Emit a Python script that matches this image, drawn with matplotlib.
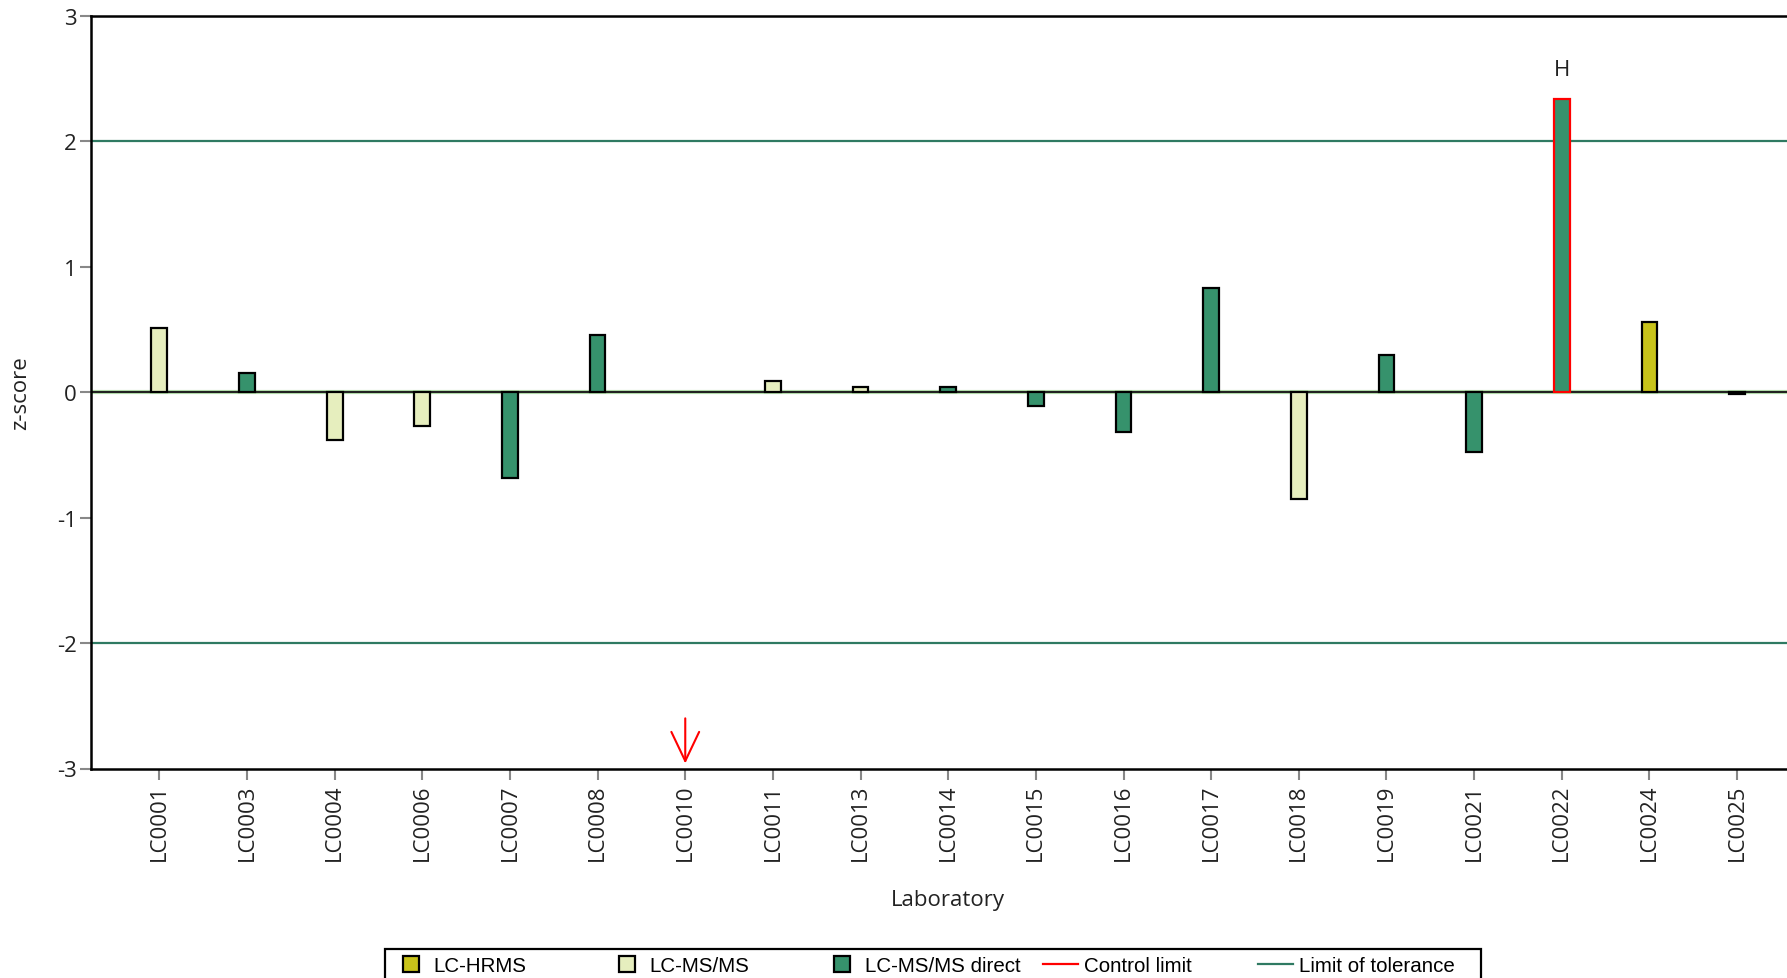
import matplotlib
matplotlib.use("Agg")
import matplotlib.pyplot as plt
from matplotlib.patches import Patch, Rectangle
from matplotlib.lines import Line2D

labs = ["LC0001", "LC0003", "LC0004", "LC0006", "LC0007", "LC0008", "LC0010",
        "LC0011", "LC0013", "LC0014", "LC0015", "LC0016", "LC0017", "LC0018",
        "LC0019", "LC0021", "LC0022", "LC0024", "LC0025"]
zscores = [0.51, 0.15, -0.38, -0.27, -0.68, 0.46, None,
           0.09, 0.045, 0.04, -0.11, -0.32, 0.83, -0.85,
           0.30, -0.48, 2.34, 0.56, -0.01]
methods = ["LC-MS/MS", "LC-MS/MS direct", "LC-MS/MS", "LC-MS/MS", "LC-MS/MS direct",
           "LC-MS/MS direct", "LC-MS/MS direct", "LC-MS/MS", "LC-MS/MS", "LC-MS/MS direct",
           "LC-MS/MS direct", "LC-MS/MS direct", "LC-MS/MS direct", "LC-MS/MS",
           "LC-MS/MS direct", "LC-MS/MS direct", "LC-MS/MS direct", "LC-HRMS", "LC-MS/MS direct"]
flags = {"LC0022": "H"}
below_range = ["LC0010"]
tolerance = [-2, 2]
method_colors = {"LC-HRMS": "#C8C31A", "LC-MS/MS": "#E6EEBE", "LC-MS/MS direct": "#36926C"}
tol_color = "#2F7A62"

plt.rcParams['font.family'] = ['Open Sans', 'DejaVu Sans']
FS = 16

fig = plt.figure(figsize=(17.87, 9.79), dpi=100)
ax = fig.add_axes([91/1787, 1 - 769.5/979, 1 - 91/1787, (769.5 - 17)/979])

ax.set_xlim(-0.78, len(labs) - 1 + 0.57)
ax.set_ylim(-3, 3)

for y in tolerance:
    ax.axhline(y, color=tol_color, lw=1.6, zorder=1)
ax.axhline(0, color="#b9e3b0", lw=3.0, zorder=1)
ax.axhline(0, color="#222222", lw=1.5, zorder=1.5)

for i, (lab, z, m) in enumerate(zip(labs, zscores, methods)):
    if z is None:
        continue
    ec = "red" if lab in flags else "black"
    ax.bar(i, z, width=0.18, color=method_colors[m], edgecolor=ec, linewidth=1.6, zorder=3)
    if lab in flags:
        ax.text(i, z + 0.23, flags[lab], ha="center", va="center", fontsize=FS, color="#222222")

for lab in below_range:
    i = labs.index(lab)
    ax.annotate("", xy=(i, -2.96), xytext=(i, -2.6),
                arrowprops=dict(arrowstyle="->,head_length=1.05,head_width=0.5",
                                color="red", lw=1.5, mutation_scale=20, shrinkA=0, shrinkB=0),
                zorder=4)

ax.set_xticks(range(len(labs)))
ax.set_xticklabels(labs, rotation=90, fontsize=FS, color="#222222")
ax.set_yticks([-3, -2, -1, 0, 1, 2, 3])
ax.set_yticklabels(["-3", "-2", "-1", "0", "1", "2", "3"], fontsize=FS, color="#222222")
ax.tick_params(axis="both", direction="out", length=8, width=1.5, color="#888888", pad=3)
ax.tick_params(axis="y", pad=2)

for s in ["left", "top", "bottom"]:
    ax.spines[s].set_linewidth(1.8)
    ax.spines[s].set_color("black")
ax.spines["right"].set_visible(False)

ax.set_ylabel("z-score", fontsize=FS, color="#222222")
ax.yaxis.set_label_coords(-0.0355, 0.5)
ax.set_xlabel("Laboratory", fontsize=FS, color="#222222", va="center")
ax.xaxis.set_label_coords(0.505, -0.1735)

# legend
leg_font = {"family": ["Liberation Sans", "DejaVu Sans"], "size": 14.8}
frame = Rectangle((385/1787, 1 - 985/979), (1481 - 385)/1787, (985 - 950)/979,
                  transform=fig.transFigure, fill=False, edgecolor="black", lw=1.6)
fig.patches.append(frame)

entries = [
    (Patch(facecolor=method_colors["LC-HRMS"], edgecolor="black", lw=1.6), "LC-HRMS", 403, True),
    (Patch(facecolor=method_colors["LC-MS/MS"], edgecolor="black", lw=1.6), "LC-MS/MS", 619, True),
    (Patch(facecolor=method_colors["LC-MS/MS direct"], edgecolor="black", lw=1.6), "LC-MS/MS direct", 834, True),
    (Line2D([], [], color="red", lw=1.6), "Control limit", 1043, False),
    (Line2D([], [], color=tol_color, lw=1.6), "Limit of tolerance", 1258, False),
]
for h, lbl, xpx, is_patch in entries:
    fig.legend(handles=[h], labels=[lbl], loc="center left",
               bbox_to_anchor=(xpx/1787, 1 - 966.5/979), frameon=False, prop=leg_font,
               borderpad=0, borderaxespad=0,
               handlelength=0.8 if is_patch else 1.7,
               handleheight=0.8 if is_patch else 0.7,
               handletextpad=0.7 if is_patch else 0.3)

fig.savefig("out.png", dpi=100)
